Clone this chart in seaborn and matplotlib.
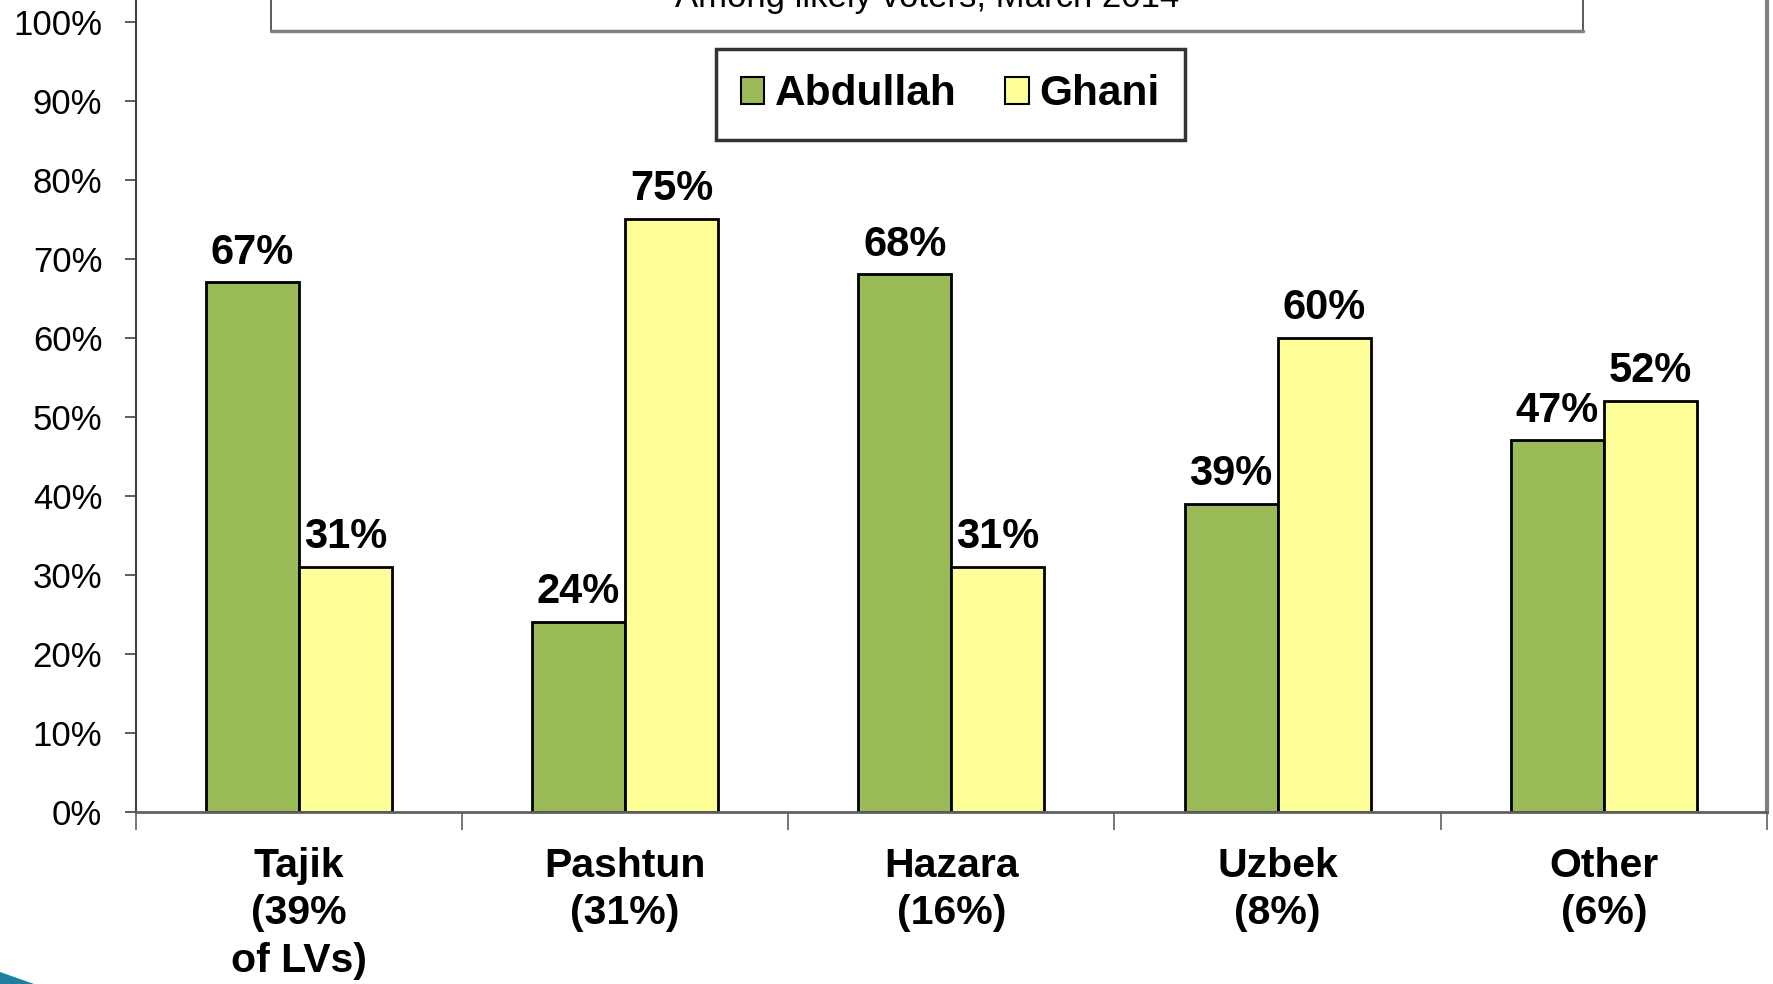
import matplotlib
matplotlib.use("Agg")
import matplotlib.pyplot as plt
import seaborn as sns
import pandas as pd
from matplotlib.patches import Rectangle, Polygon
from matplotlib.ticker import FixedLocator, FuncFormatter

# ---- data ----
groups = ["Tajik\n(39%\nof LVs)", "Pashtun\n(31%)", "Hazara\n(16%)", "Uzbek\n(8%)", "Other\n(6%)"]
candidates = ["Abdullah", "Ghani"]
abdullah = [67, 24, 68, 39, 47]
ghani = [31, 75, 31, 60, 52]
yticks = [0, 10, 20, 30, 40, 50, 60, 70, 80, 90, 100]
subtitle = "Among likely voters, March 2014"
colors = ["#9BBB59", "#FFFF99"]

df = pd.DataFrame({
    "group": groups * 2,
    "candidate": [candidates[0]] * len(groups) + [candidates[1]] * len(groups),
    "value": abdullah + ghani,
})

sns.set_style("white")
plt.rcParams["font.family"] = ["Liberation Sans", "DejaVu Sans"]
plt.rcParams["text.color"] = "black"
plt.rcParams["xtick.color"] = "black"
plt.rcParams["ytick.color"] = "black"
plt.rcParams["xtick.labelcolor"] = "black"
plt.rcParams["ytick.labelcolor"] = "black"

W, H = 1773, 984
fig = plt.figure(figsize=(W / 100, H / 100), dpi=100)

ymax = 110
y0 = 172.2 / H
unit_h = (962.5 - 172.2) / H / 100
ax = fig.add_axes([135.7 / W, y0, (1767 - 135.7) / W, unit_h * ymax])

sns.barplot(data=df, x="group", y="value", hue="candidate", palette=colors,
            order=groups, hue_order=candidates, width=0.57, gap=0,
            edgecolor="black", linewidth=2, saturation=1, ax=ax)

ax.set_xlim(-0.5, len(groups) - 0.5)
ax.set_ylim(0, ymax)
ax.set_xlabel("")
ax.set_ylabel("")

# y axis
ax.yaxis.set_major_locator(FixedLocator(yticks))
ax.yaxis.set_major_formatter(FuncFormatter(lambda v, p: f"{int(v)}%"))
ax.tick_params(axis="y", which="major", left=True, direction="out", length=8,
               width=1.2, color="#404040", labelsize=25, labelcolor="black", pad=16)

# x axis: labels at centers, tick marks at boundaries
ax.set_xticks(range(len(groups)))
ax.set_xticklabels(groups, fontsize=29.5, fontweight="bold", linespacing=1.32,
                   color="black")
ax.tick_params(axis="x", which="major", length=0, pad=25)
ax.set_xticks([i - 0.5 for i in range(len(groups) + 1)], minor=True)
ax.tick_params(axis="x", which="minor", bottom=True, direction="out", length=13,
               width=1.2, color="#606060")

ax.spines["top"].set_visible(False)
ax.spines["left"].set_color("#404040")
ax.spines["left"].set_linewidth(1.5)
ax.spines["bottom"].set_color("#606060")
ax.spines["bottom"].set_linewidth(2)
ax.spines["right"].set_color("#808080")
ax.spines["right"].set_linewidth(3)

# value labels
for cont in ax.containers:
    ax.bar_label(cont, labels=[f"{int(b.get_height())}%" for b in cont],
                 padding=7, fontsize=30, fontweight="bold", color="black")

# legend
leg = ax.legend(loc="center", bbox_to_anchor=(840.5 / 1568, 1 - 83.5 / 870),
                bbox_transform=fig.transFigure, ncol=2, frameon=True,
                fancybox=False, prop={"size": 30.5, "weight": "bold"},
                handlelength=0.55, handleheight=0.6, handletextpad=0.25,
                columnspacing=1.15, borderpad=0.6, labelcolor="black")
leg.get_frame().set_edgecolor("black")
leg.get_frame().set_linewidth(2.5)
for h in leg.legend_handles:
    h.set_edgecolor("black")
    h.set_linewidth(1.5)

# subtitle box (cut off at top)
fig.patches.append(Rectangle((271 / W, 1 - 30.5 / H), (1583 - 271) / W, 60 / H,
                             transform=fig.transFigure, facecolor="white",
                             edgecolor="#404040", linewidth=1.2, zorder=0))
fig.add_artist(plt.Line2D([271 / W, 1583 / W], [1 - 31 / H, 1 - 31 / H],
                          transform=fig.transFigure, color="#808080", linewidth=2.5))
fig.text(927 / W, 1 - 7 / H, subtitle, ha="center", va="baseline", fontsize=25,
         color="black")

# decorative swoosh bottom-left
fig.patches.append(Polygon([(0, 1 - 972 / H), (34 / W, 0), (0, 0)], closed=True,
                           transform=fig.transFigure, facecolor="#1E7F9F",
                           edgecolor="none"))

fig.savefig("out.png", dpi=100)
